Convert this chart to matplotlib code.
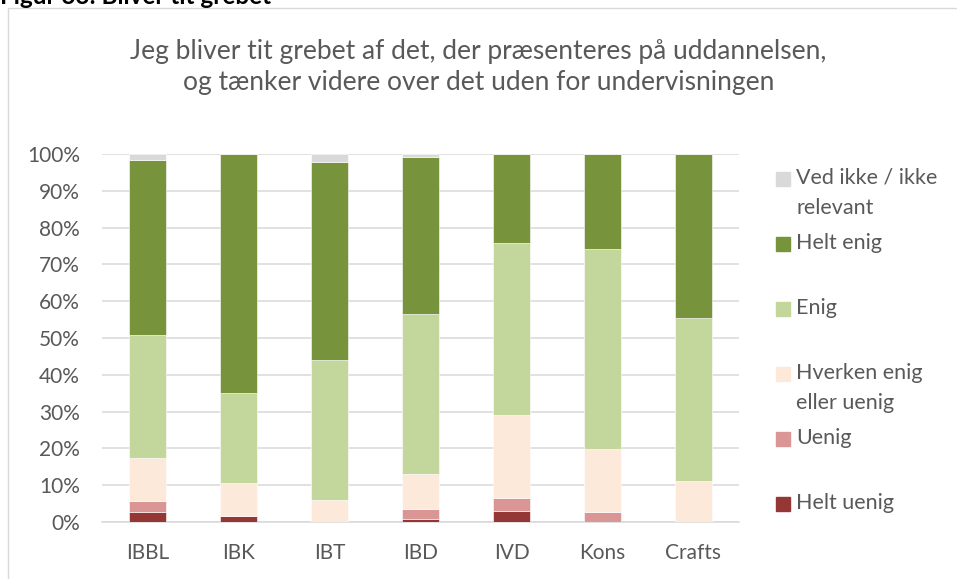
import numpy as np
import matplotlib.pyplot as plt
from matplotlib.patches import Rectangle

# %% Data (percent of respondents)
categories = ['IBBL', 'IBK', 'IBT', 'IBD', 'IVD', 'Kons', 'Crafts']
helt_uenig = [2.8, 1.7, 0.0, 0.7, 3.1, 0.0, 0.0]
uenig = [2.9, 0.0, 0.0, 2.9, 3.3, 2.7, 0.0]
hverken = [11.6, 8.8, 6.0, 9.4, 22.6, 17.1, 11.1]
enig = [33.5, 24.5, 38.0, 43.5, 46.8, 54.4, 44.4]
helt_enig = [47.6, 65.0, 53.7, 42.8, 24.2, 25.8, 44.5]
ved_ikke = [1.6, 0.0, 2.3, 0.7, 0.0, 0.0, 0.0]

series = [helt_uenig, uenig, hverken, enig, helt_enig, ved_ikke]
labels = ['Helt uenig', 'Uenig', 'Hverken enig\neller uenig', 'Enig',
          'Helt enig', 'Ved ikke / ikke\nrelevant']
colors = ['#953735', '#D99694', '#FDE9D9', '#C3D69B', '#77933C', '#D9D9D9']

title = ('Jeg bliver tit grebet af det, der præsenteres på uddannelsen,\n'
         'og tænker videre over det uden for undervisningen')
text_col = '#595959'

plt.rcParams['font.family'] = ['Lato', 'DejaVu Sans']

W, H = 957, 579
fig = plt.figure(figsize=(W / 100, H / 100), dpi=100)
ax = fig.add_axes([102 / W, 1 - 522 / H, (739 - 102) / W, (522 - 154) / H])

# %% Plotting
x = np.arange(len(categories))
bottom = np.zeros(len(categories))
for vals, lab, col in zip(series, labels, colors):
    vals = np.array(vals) / 100
    ax.bar(x, vals, 0.4, bottom=bottom, color=col, label=lab,
           edgecolor='white', linewidth=0.4, zorder=3)
    bottom += vals

ax.set_xlim(-0.5, len(categories) - 0.5)
ax.set_ylim(0, 1)
ax.set_yticks(np.arange(0, 1.01, 0.1))
ax.set_yticklabels([f'{int(round(v * 100))}%' for v in np.arange(0, 1.01, 0.1)])
ax.set_xticks(x)
ax.set_xticklabels(categories)
ax.tick_params(length=0, labelsize=15, colors=text_col)
ax.tick_params(axis='y', pad=16)
ax.tick_params(axis='x', pad=15)
ax.grid(axis='y', color='#D9D9D9', linewidth=1.1, zorder=0)
for s in ['top', 'right', 'left']:
    ax.spines[s].set_visible(False)
ax.spines['bottom'].set_color('#D9D9D9')
ax.spines['bottom'].set_linewidth(1.1)

fig.text(0.5, 1 - 67 / H, title, ha='center', va='center', fontsize=19,
         color=text_col, linespacing=1.3)

# caption above the chart frame, cut off at the top edge as in the source
fig.text(0.0, 1 - 3.5 / H, 'Figur 33: Bliver tit grebet', ha='left',
         va='baseline', fontsize=17.5, fontweight='bold', color='black')

# chart frame
fig.patches.append(Rectangle((8 / W, -0.05), 1.1, 1 - 8 / H + 0.05,
                             transform=fig.transFigure, fill=False,
                             edgecolor='#D9D9D9', linewidth=1))

# legend, top to bottom in reverse stacking order
for i, (lab, col) in enumerate(zip(labels[::-1], colors[::-1])):
    yc = 179 + 65 * i
    fig.patches.append(Rectangle((776 / W, 1 - (yc + 7) / H), 14 / W, 14 / H,
                                 transform=fig.transFigure, color=col))
    fig.text(796 / W, 1 - (yc - 11) / H, lab, ha='left', va='top',
             fontsize=15.5, color=text_col, linespacing=1.6)

fig.savefig('out.png', dpi=100)
